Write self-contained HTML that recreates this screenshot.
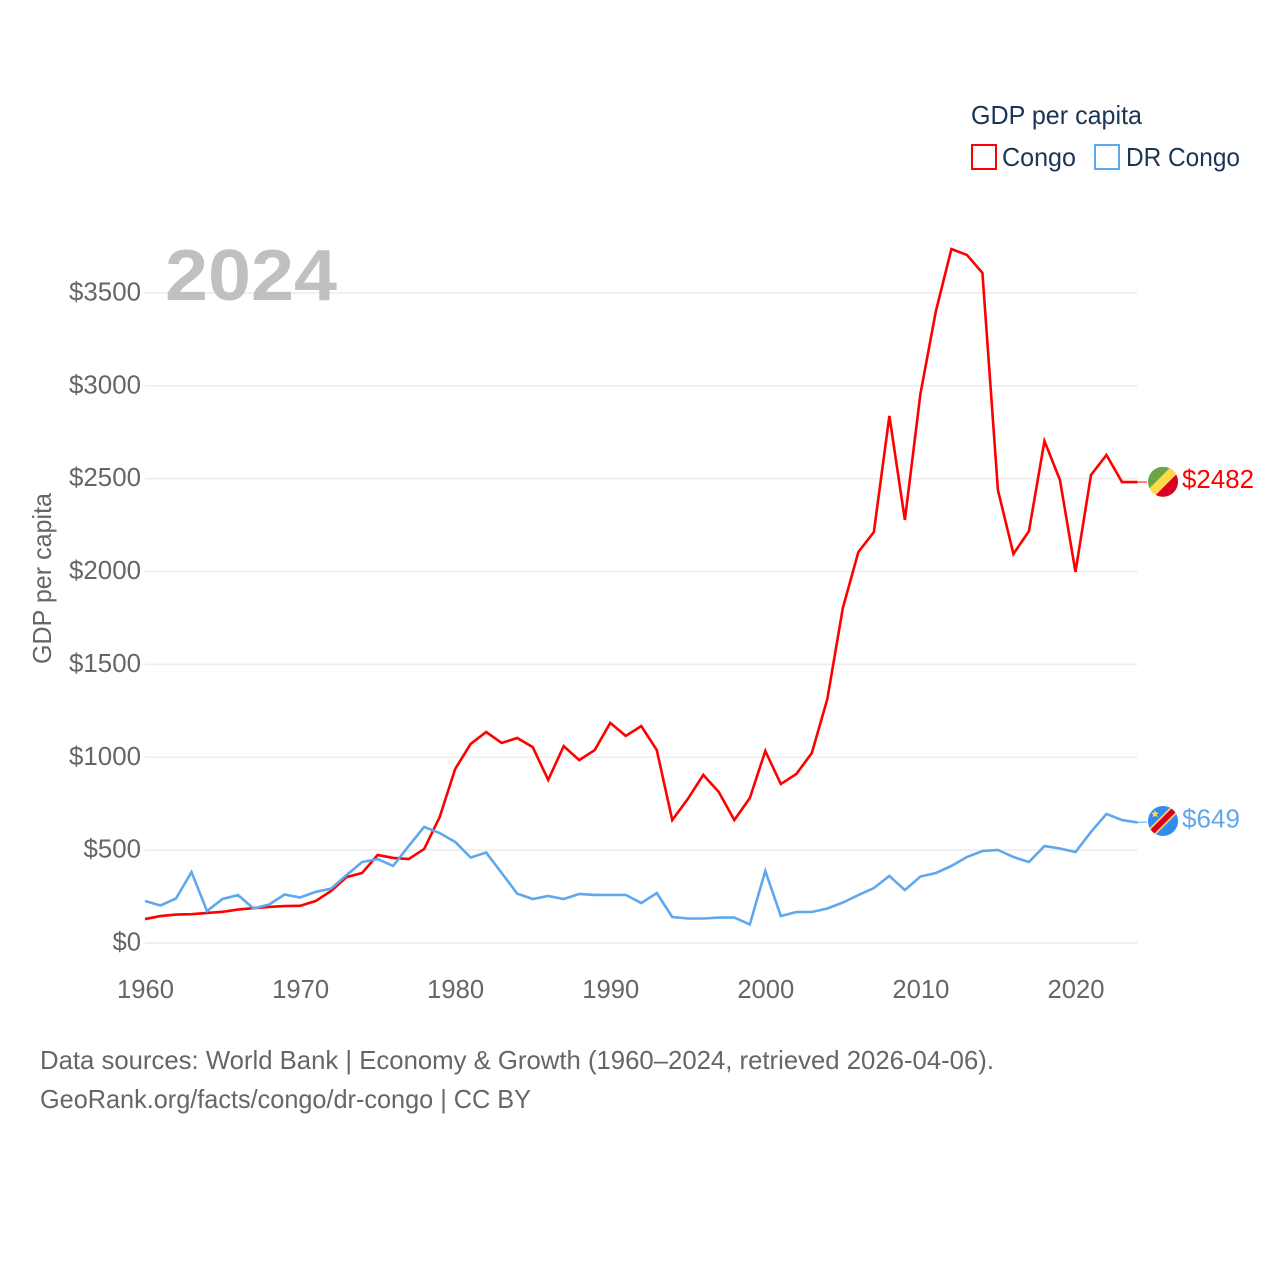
<!DOCTYPE html>
<html lang="en">
<head>
<meta charset="utf-8">
<title>GDP per capita: Congo and DR Congo</title>
<style>
html,body{margin:0;padding:0;background:#fff;}
svg{display:block;font-family:"Liberation Sans",sans-serif;}
</style>
</head>
<body>
<svg id="chart" xmlns="http://www.w3.org/2000/svg" width="1280" height="1280" viewBox="0 0 1280 1280">
  <rect x="0" y="0" width="1280" height="1280" fill="#ffffff"/>
  <defs>
    <clipPath id="flag-clip"><circle cx="0" cy="0" r="15"/></clipPath>
  </defs>
  <g id="grid"></g>
  <g id="yticks"></g>
  <g id="xticks"></g>
  <text x="165" y="300" font-size="72" font-weight="700" fill="#c0c0c0" textLength="172" lengthAdjust="spacingAndGlyphs">2024</text>
  <text transform="translate(51,664) rotate(-90)" font-size="26" fill="#666666" textLength="171" lengthAdjust="spacingAndGlyphs">GDP per capita</text>
  <g id="series"></g>
  <g>
    <text x="971" y="124" font-size="26" fill="#1b3556" textLength="171" lengthAdjust="spacingAndGlyphs">GDP per capita</text>
    <rect x="972" y="145" width="24" height="24" fill="#ffffff" stroke="#ff0000" stroke-width="2"/>
    <text x="1002" y="166" font-size="26" fill="#1b3556" textLength="74" lengthAdjust="spacingAndGlyphs">Congo</text>
    <rect x="1095" y="145" width="24" height="24" fill="#ffffff" stroke="#5fa8ee" stroke-width="2"/>
    <text x="1126" y="166" font-size="26" fill="#1b3556" textLength="114" lengthAdjust="spacingAndGlyphs">DR Congo</text>
  </g>
  <g>
    <text x="40" y="1069" font-size="26" fill="#666666" textLength="954" lengthAdjust="spacingAndGlyphs">Data sources: World Bank | Economy &amp; Growth (1960–2024, retrieved 2026-04-06).</text>
    <text x="40" y="1108" font-size="26" fill="#666666" textLength="491" lengthAdjust="spacingAndGlyphs">GeoRank.org/facts/congo/dr-congo | CC BY</text>
  </g>
</svg>
<script>
const years = [1960,1961,1962,1963,1964,1965,1966,1967,1968,1969,1970,1971,1972,1973,1974,1975,1976,1977,1978,1979,1980,1981,1982,1983,1984,1985,1986,1987,1988,1989,1990,1991,1992,1993,1994,1995,1996,1997,1998,1999,2000,2001,2002,2003,2004,2005,2006,2007,2008,2009,2010,2011,2012,2013,2014,2015,2016,2017,2018,2019,2020,2021,2022,2023,2024];
const congoValues = [129,145,153,155,162,168,180,188,194,199,200,226,280,355,377,474,458,452,506,678,937,1072,1136,1077,1104,1055,878,1060,985,1039,1185,1115,1168,1039,662,775,905,813,662,780,1034,856,910,1023,1314,1804,2105,2213,2838,2278,2956,3403,3737,3705,3608,2439,2095,2218,2703,2493,1998,2520,2628,2482,2482];
const drCongoValues = [226,202,240,382,172,237,258,186,207,261,245,275,293,366,436,452,415,522,625,592,544,460,487,377,266,237,253,237,264,259,259,259,215,269,140,132,132,137,137,100,388,145,167,167,186,218,258,296,361,285,358,377,415,463,495,501,463,436,522,509,490,598,695,662,649];
const yTickValues = [0,500,1000,1500,2000,2500,3000,3500];
const yTickLabels = ["$0","$500","$1000","$1500","$2000","$2500","$3000","$3500"];
const xTickValues = [1960,1970,1980,1990,2000,2010,2020];
const xTickLabels = ["1960","1970","1980","1990","2000","2010","2020"];

const NS = "http://www.w3.org/2000/svg";
const xScale = function (year) { return 145 + (year - 1960) * (1137.5 - 145) / 64; };
const yScale = function (value) { return 943 - value * 650 / 3500; };

function make(parent, tag, attrs, text) {
  const el = document.createElementNS(NS, tag);
  for (const k in attrs) el.setAttribute(k, attrs[k]);
  if (text !== undefined) el.textContent = text;
  parent.appendChild(el);
  return el;
}

const grid = document.getElementById("grid");
const yticks = document.getElementById("yticks");
const xticks = document.getElementById("xticks");
const series = document.getElementById("series");

yTickValues.forEach(function (v, i) {
  const line = make(grid, "line", {x1: 145, x2: 1137.5, y1: yScale(v), y2: yScale(v), stroke: "#ececec", "stroke-width": 1.5});
  
  
  const lab = yTickLabels[i];
  const label = make(yticks, "text", {x: 141, y: yScale(v) + 7.5, "text-anchor": "end", "font-size": 26, fill: "#666666", textLength: lab.length * 14.5 - 0.5, lengthAdjust: "spacingAndGlyphs"}, lab);
  
  
});

xTickValues.forEach(function (v, i) {
  const label = make(xticks, "text", {x: xScale(v) + 0.5, y: 998, "text-anchor": "middle", "font-size": 26, fill: "#666666", textLength: 57, lengthAdjust: "spacingAndGlyphs"}, xTickLabels[i]);
  
  
});

function linePoints(values) {
  return values.map(function (v, i) { return xScale(years[i]).toFixed(2) + "," + yScale(v).toFixed(2); }).join(" ");
}

const congoLine = make(series, "polyline", {points: linePoints(congoValues), fill: "none", stroke: "#ff0000", "stroke-width": 2.6, "stroke-linejoin": "miter"});



const drCongoLine = make(series, "polyline", {points: linePoints(drCongoValues), fill: "none", stroke: "#5fa8ee", "stroke-width": 2.6, "stroke-linejoin": "miter"});



/* end-of-line connectors, flags, and value labels */
const lastCongo = congoValues[congoValues.length - 1];
const lastDr = drCongoValues[drCongoValues.length - 1];
const yC = yScale(lastCongo);
const yD = yScale(lastDr);

const connC = make(series, "line", {x1: 1137.5, x2: 1147, y1: yC, y2: yC, stroke: "#ff0000", "stroke-width": 1});


const connD = make(series, "line", {x1: 1137.5, x2: 1147, y1: yD, y2: yD - 0.5, stroke: "#5fa8ee", "stroke-width": 1});



const flagC = make(series, "g", {transform: "translate(1163," + (yC - 0.3) + ")", "clip-path": "url(#flag-clip)"});


make(flagC, "rect", {x: -15, y: -15, width: 30, height: 30, fill: "#6da544"});
make(flagC, "polygon", {points: "-20,13 13,-20 30,-20 30,30 -20,30", fill: "#ffda44"});
make(flagC, "polygon", {points: "-20,26 26,-20 30,-20 30,30 -20,30", fill: "#d80027"});

const flagD = make(series, "g", {transform: "translate(1163," + (yD - 1.5) + ")", "clip-path": "url(#flag-clip)"});


make(flagD, "rect", {x: -15, y: -15, width: 30, height: 30, fill: "#338af3"});
make(flagD, "line", {x1: -18, y1: 18, x2: 18, y2: -18, stroke: "#ffda44", "stroke-width": 9});
make(flagD, "line", {x1: -18, y1: 18, x2: 18, y2: -18, stroke: "#d80027", "stroke-width": 5.6});
make(flagD, "polygon", {points: "-8,-11 -6.8,-8.4 -4,-8.2 -6.2,-6.4 -5.4,-3.6 -8,-5.2 -10.6,-3.6 -9.8,-6.4 -12,-8.2 -9.2,-8.4", fill: "#ffda44"});

const labC = make(series, "text", {x: 1182, y: yC + 6, "font-size": 26, fill: "#ff0000", textLength: 72, lengthAdjust: "spacingAndGlyphs"}, "$" + lastCongo);


const labD = make(series, "text", {x: 1182, y: yD + 5, "font-size": 26, fill: "#5fa8ee", textLength: 58, lengthAdjust: "spacingAndGlyphs"}, "$" + lastDr);


</script>
</body>
</html>
